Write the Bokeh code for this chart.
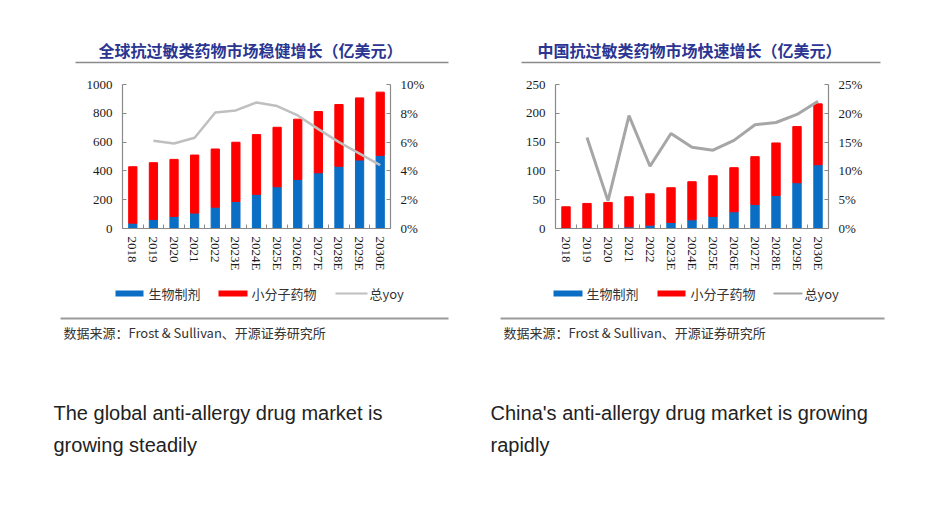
import math
from bokeh.plotting import figure
from bokeh.models import (Range1d, LinearAxis, FixedTicker, PrintfTickFormatter,
                          ColumnDataSource)
from bokeh.layouts import column, row
from bokeh.embed import file_html
from bokeh.resources import INLINE
from bokeh.core.properties import value

nan = float("nan")

# ---------------- data ----------------
years = ["2018", "2019", "2020", "2021", "2022", "2023E", "2024E",
         "2025E", "2026E", "2027E", "2028E", "2029E", "2030E"]

# Global market (100M USD)
global_bio = [37, 63, 84, 107, 148, 188, 237, 290, 341, 387, 432, 476, 508]
global_small = [392, 394, 396, 403, 404, 411, 415, 413, 418, 425, 429, 431, 439]
global_yoy = [nan, 6.1, 5.9, 6.3, 8.05, 8.2, 8.75, 8.5, 7.85, 6.9, 6.0, 5.2, 4.4]
global_y_ticks = [0, 200, 400, 600, 800, 1000]
global_pct_ticks = [0, 2, 4, 6, 8, 10]

# China market (100M USD)
china_bio = [0, 0, 0, 2.9, 5.8, 10.4, 15.1, 20.9, 29, 41.8, 57.4, 79.5, 110.8]
china_small = [37.7, 43.5, 45.2, 52.2, 54.5, 60.4, 66.1, 70.7, 76.6, 82.9, 91.1, 97.4, 105.6]
china_yoy = [nan, 15.8, 4.8, 19.6, 10.8, 16.5, 14.1, 13.6, 15.3, 18.0, 18.4, 19.8, 22.1]
china_y_ticks = [0, 50, 100, 150, 200, 250]
china_pct_ticks = [0, 5, 10, 15, 20, 25]

series_names = ["生物制剂", "小分子药物", "总yoy"]
titles = ["全球抗过敏类药物市场稳健增长（亿美元）", "中国抗过敏类药物市场快速增长（亿美元）"]
source_text = "数据来源：Frost & Sullivan、开源证券研究所"
captions_left = ["The global anti-allergy drug market is", "growing steadily"]
captions_right = ["China's anti-allergy drug market is growing", "rapidly"]

# ---------------- style ----------------
BLUE = "#0A6EC4"
RED = "#FF0000"
AXIS_GREY = "#8a8a8a"
TITLE_BLUE = "#2B3592"
SERIF = "Liberation Serif"
CJK = "Noto Sans CJK SC"
LINE_COLORS = ["#BFBFBF", "#A6A6A6"]
LINE_WIDTHS = [2.5, 3]
W = 928
TOP_H = 72
CHART_BOTTOM = 280
BOT_H = 520 - CHART_BOTTOM


def bare(h, y0, y1):
    p = figure(width=W, height=h, x_range=Range1d(0, W), y_range=Range1d(y1, y0),
               toolbar_location=None, output_backend="svg", title=None,
               x_axis_location=None, y_axis_location=None, min_border=0)
    p.outline_line_color = None
    p.xgrid.visible = False
    p.ygrid.visible = False
    return p


def chart(bio, small, yoy, yticks, pticks, ml, fw, mr, lcolor, lwidth):
    n = len(years)
    xs = list(range(n))
    src = ColumnDataSource(dict(x=xs, bio=bio, small=small, yoy=yoy))
    p = figure(title=None, toolbar_location=None, output_backend="svg",
               frame_width=fw, frame_height=144,
               min_border_left=ml, min_border_right=mr,
               min_border_top=84 - TOP_H, min_border_bottom=CHART_BOTTOM - 228,
               x_range=Range1d(-0.5, n - 0.5),
               y_range=Range1d(yticks[0], yticks[-1]))
    p.outline_line_color = None
    p.xgrid.visible = False
    p.ygrid.visible = False
    p.extra_y_ranges = {"pct": Range1d(pticks[0], pticks[-1])}

    p.vbar_stack(["bio", "small"], x="x", width=0.4, color=[BLUE, RED], source=src)
    p.line("x", "yoy", source=src, y_range_name="pct",
           line_color=lcolor, line_width=lwidth)

    ax_r = LinearAxis(y_range_name="pct", ticker=FixedTicker(ticks=pticks),
                      formatter=PrintfTickFormatter(format="%d%%"))
    p.add_layout(ax_r, "right")
    p.yaxis[0].ticker = FixedTicker(ticks=yticks)

    for ax in p.axis:
        ax.axis_line_color = AXIS_GREY
        ax.axis_line_width = 1.2
        ax.major_tick_line_color = AXIS_GREY
        ax.minor_tick_line_color = AXIS_GREY
        ax.major_tick_in = 4
        ax.major_tick_out = 0
        ax.minor_tick_in = 0
        ax.minor_tick_out = 0
        ax.major_label_text_font = SERIF
        ax.major_label_text_font_size = "13px"
        ax.major_label_text_color = "#1a1a1a"
        ax.major_label_standoff = 10

    xa = p.xaxis[0]
    xa.ticker = FixedTicker(ticks=xs, minor_ticks=[i - 0.5 for i in range(n + 1)])
    xa.major_label_overrides = {i: y for i, y in enumerate(years)}
    xa.major_label_orientation = "vertical"
    xa.major_tick_in = 0
    xa.minor_tick_in = 4
    xa.major_label_standoff = 8
    return p


# ---------------- top (titles) ----------------
top = bare(TOP_H, 0, TOP_H)
top.text(x=[250, 689], y=[49, 49], text=titles, text_align="center",
         text_baseline="middle", text_font=value(CJK),
         text_font_size=value("16px"), text_font_style="bold", text_color=TITLE_BLUE)
top.segment(x0=[75, 521], y0=[62, 62], x1=[448, 880], y1=[62, 62],
            line_color=AXIS_GREY, line_width=1.5)

# ---------------- charts ----------------
left = chart(global_bio, global_small, global_yoy, global_y_ticks, global_pct_ticks,
             122, 268, 80, LINE_COLORS[0], LINE_WIDTHS[0])
right = chart(china_bio, china_small, china_yoy, china_y_ticks, china_pct_ticks,
              555 - 470, 273, W - 828, LINE_COLORS[1], LINE_WIDTHS[1])

# ---------------- bottom (legend, source, captions) ----------------
bot = bare(BOT_H, CHART_BOTTOM, CHART_BOTTOM + BOT_H)
# legend keys: [blue swatch, red swatch, grey line] start/end for each panel
key_x0 = [[115, 218, 335], [553, 657, 773]]
key_x1 = [[143, 247, 367], [582, 685, 802]]
lab_x = [[148, 251, 369], [586, 690, 804]]
for k in range(2):
    bot.quad(left=[key_x0[k][0], key_x0[k][1]], right=[key_x1[k][0], key_x1[k][1]],
             bottom=[296, 296], top=[290, 290], fill_color=[BLUE, RED], line_color=None)
    bot.segment(x0=[key_x0[k][2]], x1=[key_x1[k][2]], y0=[293], y1=[293],
                line_color=LINE_COLORS[k], line_width=2)
    bot.text(x=lab_x[k], y=[293, 293, 293], text=series_names, text_align="left",
             text_baseline="middle", text_font=value(CJK), text_font_size=value("13px"),
             text_color="#333333")

bot.segment(x0=[60, 500], y0=[318, 318], x1=[448, 884], y1=[318, 318],
            line_color="#9a9a9a", line_width=2)
bot.text(x=[63, 503], y=[332, 332], text=[source_text, source_text], text_align="left",
         text_baseline="middle", text_font=value(CJK), text_font_size=value("13px"),
         text_color="#333333")
bot.text(x=[53, 53, 490, 490], y=[412, 444, 412, 444],
         text=captions_left + captions_right, text_align="left", text_baseline="middle",
         text_font=value("Liberation Sans"), text_font_size=value("20px"),
         text_color="#222222")

layout = column(top, row(left, right), bot)
open("out.html", "w").write(file_html(layout, INLINE))
